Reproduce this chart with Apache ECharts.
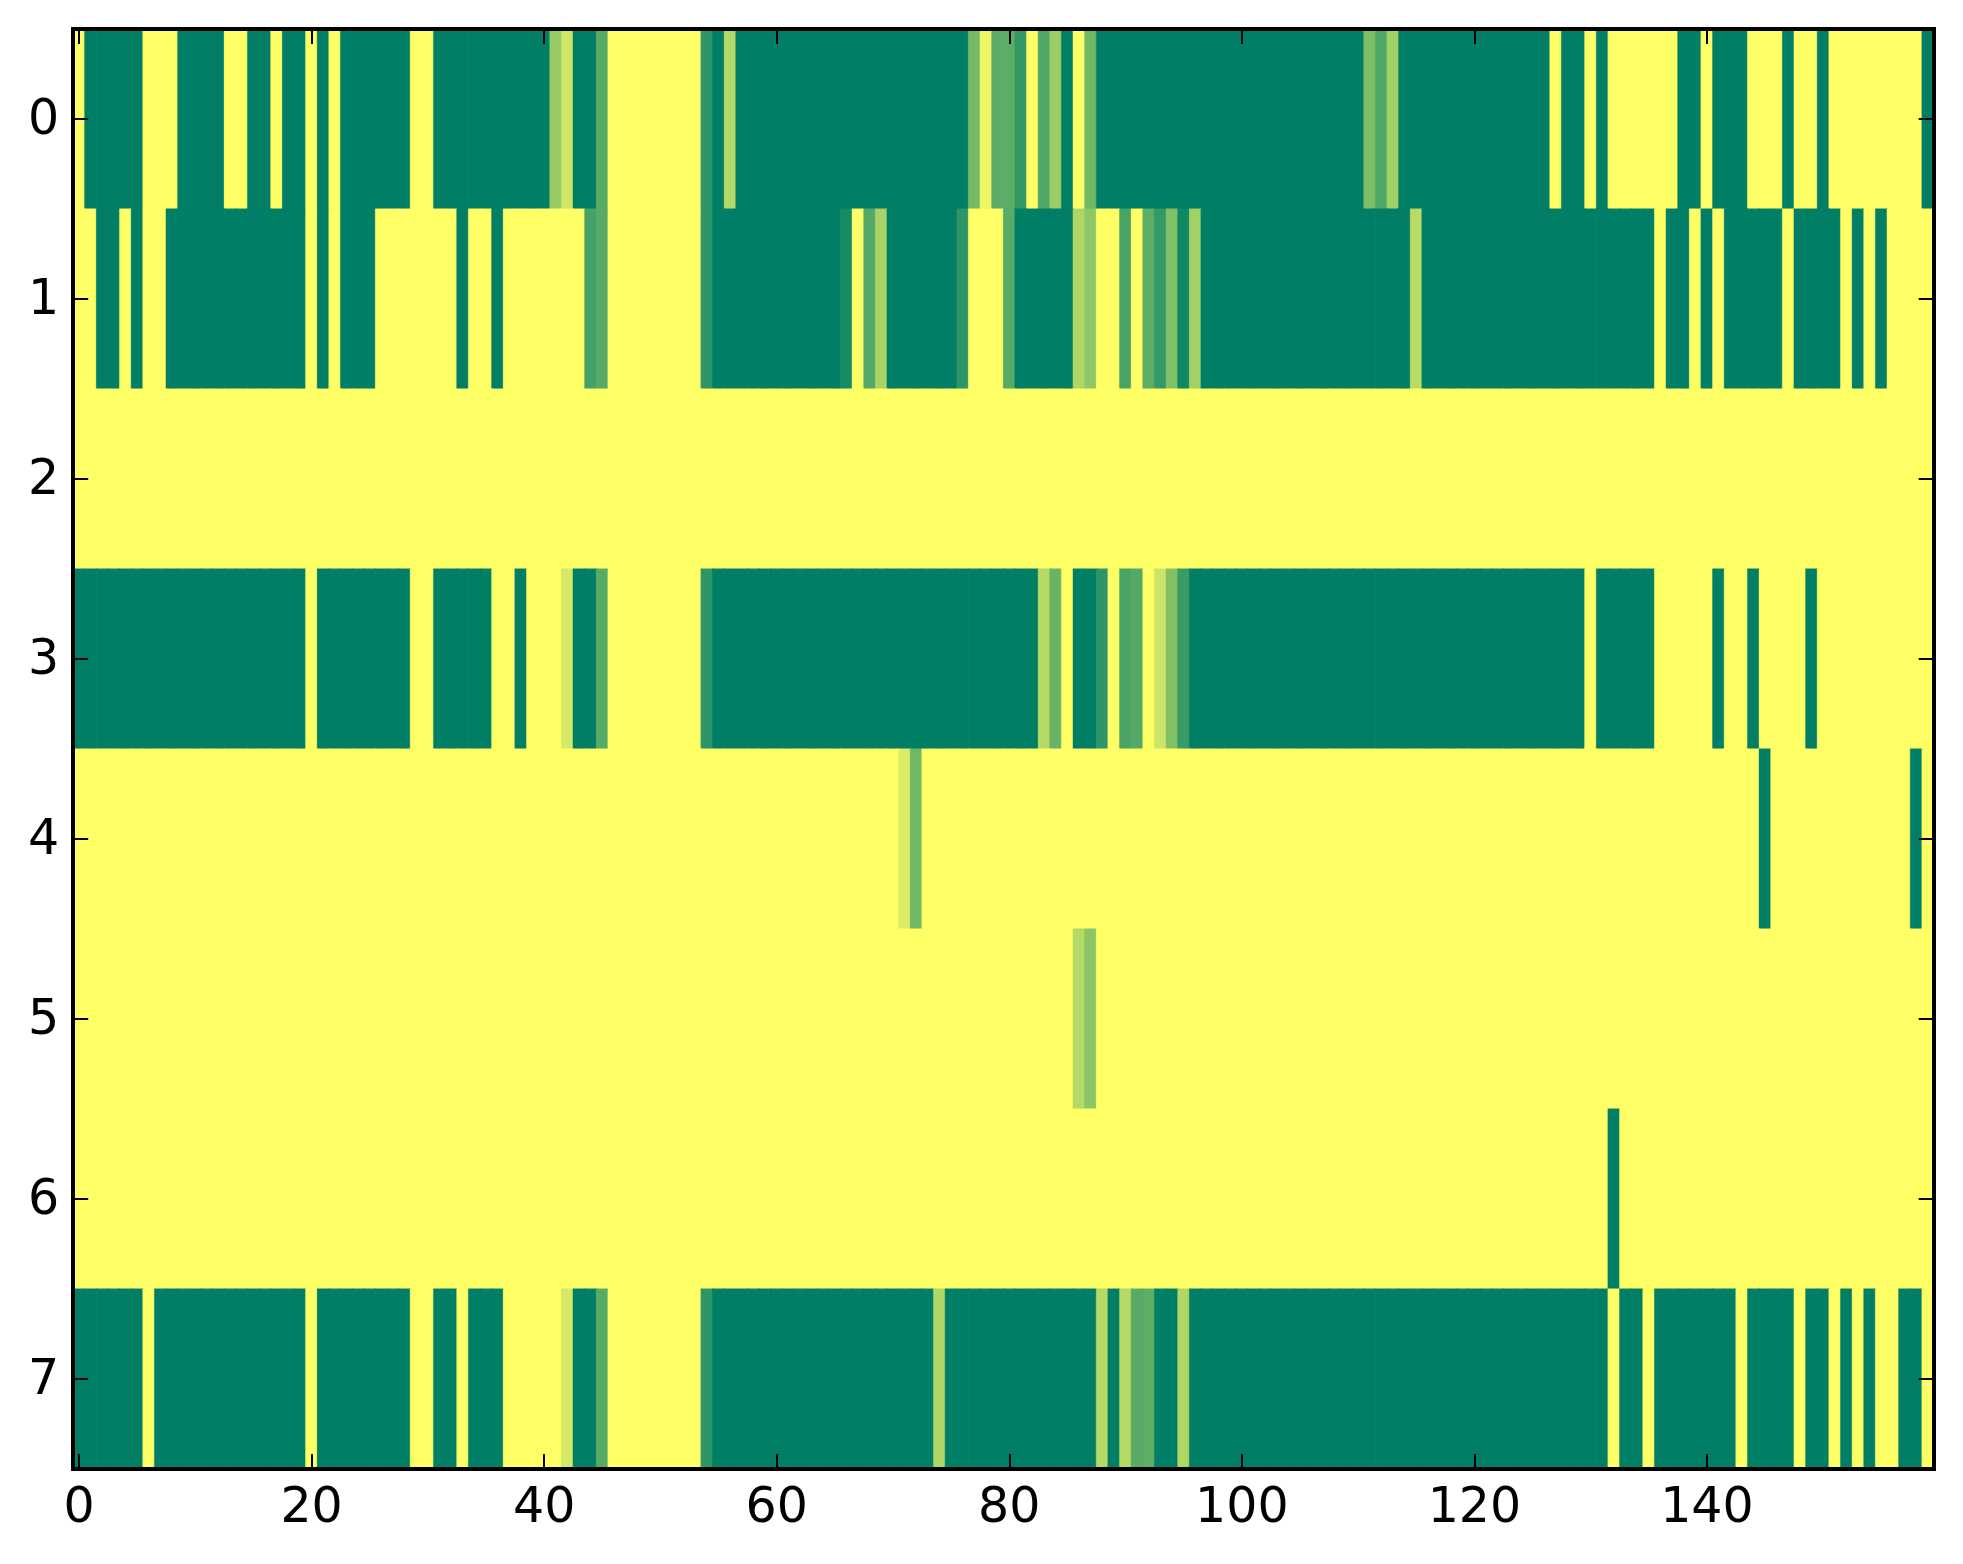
<!DOCTYPE html>
<html><head><meta charset="utf-8">
<script src="https://cdn.jsdelivr.net/npm/echarts@6/dist/echarts.min.js"></script>
<style>html,body{margin:0;padding:0;background:#fff}#c{width:1963px;height:1564px}</style>
</head><body><div id="c"></div>
<script>
const rowLabels = ['0','1','2','3','4','5','6','7'];
const row0 = [0,1,1,1,1,1,0,0,0,1,1,1,1,0,0,1,1,0,1,1, 0,1,0,1,1,1,1,1,1,0,0,1,1,1,1,1,1,1,1,1, 1,.41,.19,1,1,.66,0,0,0,0,0,0,0,0,.82,1,.30,1,1,1, 1,1,1,1,1,1,1,1,1,1,1,1,1,1,1,1,1,.55,.07,.64, .64,.80,0,.69,.39,1,0,.56,1,1,1,1,1,1,1,1,1,1,1,1, 1,1,1,1,1,1,1,1,1,1,1,.51,.69,.37,1,1,1,1,1,1, 1,1,1,1,1,1,1,0,1,1,0,1,0,0,0,0,0,0,1,1, 0,1,1,1,0,0,0,1,0,0,1,0,0,0,0,0,0,0,0,1];
const row1 = [0,0,1,1,0,1,0,0,1,1,1,1,1,1,1,1,1,1,1,1, 0,1,0,1,1,1,0,0,0,0,0,0,0,1,0,0,1,0,0,0, 0,0,0,0,.73,.66,0,0,0,0,0,0,0,0,.82,1,1,1,1,1, 1,1,1,1,1,1,.91,0,.67,.34,1,1,1,1,1,1,.82,0,0,0, .66,1,1,1,1,1,.31,.44,0,0,.72,0,.64,.80,.49,.94,.36,1,1,1, 1,1,1,1,1,1,1,1,1,1,1,1,1,1,1,.28,1,1,1,1, 1,1,1,1,1,1,1,1,1,1,1,1,1,1,1,1,0,1,1,0, 1,0,1,1,1,1,1,0,1,1,1,1,0,1,0,1,0,0,0,0];
const row2 = [0,0,0,0,0,0,0,0,0,0,0,0,0,0,0,0,0,0,0,0, 0,0,0,0,0,0,0,0,0,0,0,0,0,0,0,0,0,0,0,0, 0,0,0,0,0,0,0,0,0,0,0,0,0,0,0,0,0,0,0,0, 0,0,0,0,0,0,0,0,0,0,0,0,0,0,0,0,0,0,0,0, 0,0,0,0,0,0,0,0,0,0,0,0,0,0,0,0,0,0,0,0, 0,0,0,0,0,0,0,0,0,0,0,0,0,0,0,0,0,0,0,0, 0,0,0,0,0,0,0,0,0,0,0,0,0,0,0,0,0,0,0,0, 0,0,0,0,0,0,0,0,0,0,0,0,0,0,0,0,0,0,0,0];
const row3 = [1,1,1,1,1,1,1,1,1,1,1,1,1,1,1,1,1,1,1,1, 0,1,1,1,1,1,1,1,1,0,0,1,1,1,1,1,0,0,1,0, 0,0,.17,1,1,.66,0,0,0,0,0,0,0,0,.82,1,1,1,1,1, 1,1,1,1,1,1,1,1,1,1,1,1,1,1,1,1,1,1,1,1, 1,1,1,.29,.59,0,1,1,.82,0,.71,.67,0,.20,.49,.78,1,1,1,1, 1,1,1,1,1,1,1,1,1,1,1,1,1,1,1,1,1,1,1,1, 1,1,1,1,1,1,1,1,1,1,0,1,1,1,1,1,0,0,0,0, 0,1,0,0,1,0,0,0,0,1,0,0,0,0,0,0,0,0,0,0];
const row4 = [0,0,0,0,0,0,0,0,0,0,0,0,0,0,0,0,0,0,0,0, 0,0,0,0,0,0,0,0,0,0,0,0,0,0,0,0,0,0,0,0, 0,0,0,0,0,0,0,0,0,0,0,0,0,0,0,0,0,0,0,0, 0,0,0,0,0,0,0,0,0,0,0,.14,.56,0,0,0,0,0,0,0, 0,0,0,0,0,0,0,0,0,0,0,0,0,0,0,0,0,0,0,0, 0,0,0,0,0,0,0,0,0,0,0,0,0,0,0,0,0,0,0,0, 0,0,0,0,0,0,0,0,0,0,0,0,0,0,0,0,0,0,0,0, 0,0,0,0,0,1,0,0,0,0,0,0,0,0,0,0,0,0,1,0];
const row5 = [0,0,0,0,0,0,0,0,0,0,0,0,0,0,0,0,0,0,0,0, 0,0,0,0,0,0,0,0,0,0,0,0,0,0,0,0,0,0,0,0, 0,0,0,0,0,0,0,0,0,0,0,0,0,0,0,0,0,0,0,0, 0,0,0,0,0,0,0,0,0,0,0,0,0,0,0,0,0,0,0,0, 0,0,0,0,0,0,.30,.45,0,0,0,0,0,0,0,0,0,0,0,0, 0,0,0,0,0,0,0,0,0,0,0,0,0,0,0,0,0,0,0,0, 0,0,0,0,0,0,0,0,0,0,0,0,0,0,0,0,0,0,0,0, 0,0,0,0,0,0,0,0,0,0,0,0,0,0,0,0,0,0,0,0];
const row6 = [0,0,0,0,0,0,0,0,0,0,0,0,0,0,0,0,0,0,0,0, 0,0,0,0,0,0,0,0,0,0,0,0,0,0,0,0,0,0,0,0, 0,0,0,0,0,0,0,0,0,0,0,0,0,0,0,0,0,0,0,0, 0,0,0,0,0,0,0,0,0,0,0,0,0,0,0,0,0,0,0,0, 0,0,0,0,0,0,0,0,0,0,0,0,0,0,0,0,0,0,0,0, 0,0,0,0,0,0,0,0,0,0,0,0,0,0,0,0,0,0,0,0, 0,0,0,0,0,0,0,0,0,0,0,0,1,0,0,0,0,0,0,0, 0,0,0,0,0,0,0,0,0,0,0,0,0,0,0,0,0,0,0,0];
const row7 = [1,1,1,1,1,1,0,1,1,1,1,1,1,1,1,1,1,1,1,1, 0,1,1,1,1,1,1,1,1,0,0,1,1,0,1,1,1,0,0,0, 0,0,.17,1,1,.66,0,0,0,0,0,0,0,0,.82,1,1,1,1,1, 1,1,1,1,1,1,1,1,1,1,1,1,1,1,.31,1,1,1,1,1, 1,1,1,1,1,1,1,1,.29,1,.29,.66,.63,1,1,.31,1,1,1,1, 1,1,1,1,1,1,1,1,1,1,1,1,1,1,1,1,1,1,1,1, 1,1,1,1,1,1,1,1,1,1,1,1,0,1,1,0,1,1,1,1, 1,1,1,0,1,1,1,1,0,1,1,0,1,0,1,0,0,1,1,0];
const rows = [row0,row1,row2,row3,row4,row5,row6,row7];
const columns = row0.map((_, i) => String(i));

// colour ramp ends: low value = yellow, high value = green
const LOW = [255,255,102], HIGH = [0,127,102];
const shade = v => 'rgb(' + LOW.map((c, i) => Math.round(c + (HIGH[i] - c) * v)).join(',') + ')';
const cells = [];
rows.forEach((r, y) => r.forEach((v, x) => {
  const col = shade(v);
  cells.push({value:[x, y, v], itemStyle:{color:col, borderColor:col, borderWidth:0.4}});
}));

const FONT = 'DejaVu Sans';
const labelStyle = {color:'#000', fontFamily:FONT, fontSize:49};
const spine = {show:true, onZero:false, lineStyle:{color:'#000', width:4, cap:'square'}};
const xTick = {show:true, inside:true, length:15, interval:19, alignWithLabel:true, lineStyle:{color:'#000', width:2}};
const yTick = {show:true, inside:true, length:15, alignWithLabel:true, lineStyle:{color:'#000', width:2}};

const chart = echarts.init(document.getElementById('c'), null, {renderer:'canvas'});
chart.setOption({
  animation:false,
  backgroundColor:'#fff',
  grid:{left:73.2, right:29.3, top:29, bottom:95, containLabel:false},
  xAxis:[
    {type:'category', data:columns, position:'bottom', z:5, splitLine:{show:false}, axisLine:spine, axisTick:xTick,
     axisLabel:{...labelStyle, interval:19, margin:16, hideOverlap:false}},
    {type:'category', data:columns, position:'top', z:5, splitLine:{show:false}, axisLine:spine, axisTick:xTick,
     axisLabel:{show:false}}
  ],
  yAxis:[
    {type:'category', data:rowLabels, inverse:true, position:'left', z:5, splitLine:{show:false}, axisLine:spine, axisTick:yTick,
     axisLabel:{margin:14, formatter:'{n|{value}}',
       rich:{n:{...labelStyle, lineHeight:49, padding:[5,0,0,0]}}}},
    {type:'category', data:rowLabels, inverse:true, position:'right', z:5, splitLine:{show:false}, axisLine:spine, axisTick:yTick,
     axisLabel:{show:false}}
  ],
  series:[{type:'heatmap', xAxisIndex:0, yAxisIndex:0, data:cells, progressive:0, emphasis:{disabled:true}}],
  tooltip:{show:false}
});
</script></body></html>
